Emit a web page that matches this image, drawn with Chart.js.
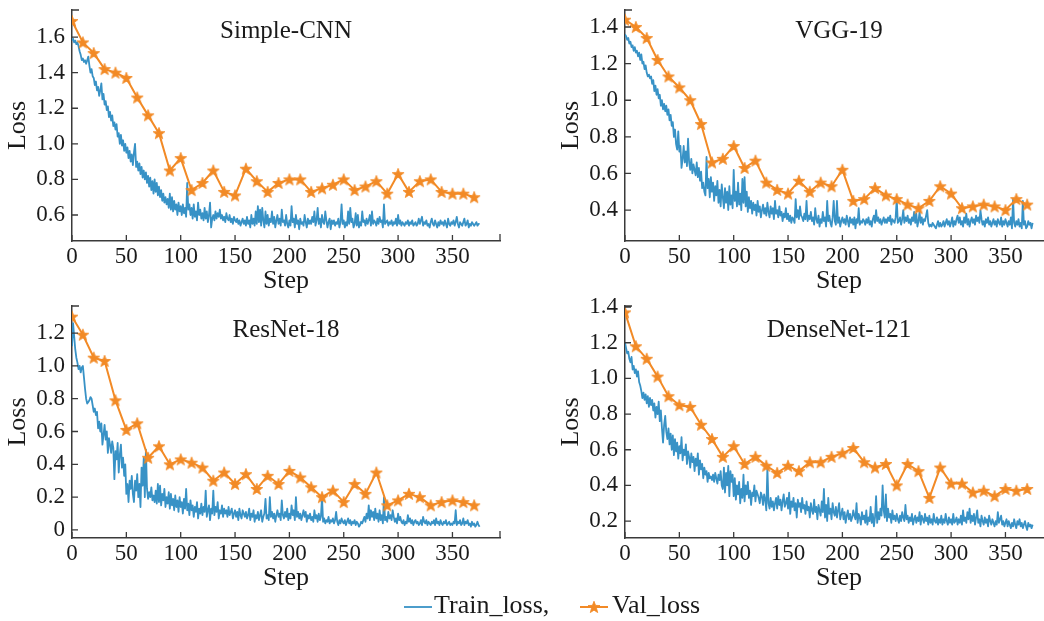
<!DOCTYPE html>
<html>
<head>
<meta charset="utf-8">
<script src="https://cdn.jsdelivr.net/npm/chart.js@4.4.0/dist/chart.umd.min.js"></script>
<style>
  html, body { margin: 0; padding: 0; background: #fff; }
  body { width: 1044px; height: 621px; position: relative; overflow: hidden; }
  canvas.panel { position: absolute; }
  #legend { position: absolute; left: 0; top: 0; width: 1044px; height: 621px; pointer-events: none; z-index: 5; }
  #legend span { position: absolute; font-family: 'Liberation Serif', 'Times New Roman', serif; font-size: 26px; line-height: 30px; color: #1a1a1a; white-space: pre; }
  #legend canvas { position: absolute; }
</style>
</head>
<body>
<canvas class="panel" id="cnn" width="522" height="297" style="left:0;top:0"></canvas>
<canvas class="panel" id="vgg" width="522" height="297" style="left:553px;top:0"></canvas>
<canvas class="panel" id="resnet" width="522" height="297" style="left:0;top:297px"></canvas>
<canvas class="panel" id="densenet" width="522" height="297" style="left:553px;top:297px"></canvas>
<div id="legend"></div>
<script>
// ---- data -------------------------------------------------------------
const stepTicks = [0, 50, 100, 150, 200, 250, 300, 350];
const valSteps = [0,10,20,30,40,50,60,70,80,90,100,110,120,130,140,150,160,170,180,190,
                  200,210,220,230,240,250,260,270,280,290,300,310,320,330,340,350,360,370];

// training loss, one value per step (0..375)
const simpleCnnTrain = [
  1.58,1.59,1.57,1.58,1.56,1.57,1.55,1.52,1.50,1.47,
  1.48,1.46,1.47,1.45,1.47,1.49,1.44,1.40,1.42,1.38,
  1.37,1.33,1.35,1.30,1.32,1.27,1.30,1.34,1.25,1.28,
  1.22,1.24,1.19,1.21,1.15,1.18,1.13,1.16,1.10,1.12,
  1.08,1.11,1.04,1.06,1.00,1.05,0.99,1.02,0.96,1.00,
  0.95,0.98,0.92,0.96,0.90,0.94,0.88,0.95,1.00,0.87,
  0.90,0.85,0.89,0.83,0.87,0.81,0.85,0.80,0.84,0.78,
  0.82,0.76,0.81,0.74,0.79,0.72,0.80,0.73,0.78,0.71,
  0.76,0.70,0.74,0.68,0.72,0.67,0.70,0.66,0.69,0.64,
  0.72,0.63,0.70,0.62,0.68,0.63,0.66,0.60,0.67,0.62,
  0.65,0.60,0.66,0.61,0.64,0.59,0.78,0.63,0.66,0.60,
  0.64,0.58,0.66,0.59,0.62,0.57,0.67,0.60,0.63,0.58,
  0.61,0.57,0.64,0.58,0.62,0.56,0.60,0.67,0.53,0.58,
  0.60,0.57,0.62,0.58,0.61,0.59,0.63,0.58,0.60,0.57,
  0.59,0.56,0.61,0.58,0.57,0.60,0.56,0.58,0.55,0.59,
  0.57,0.56,0.58,0.55,0.57,0.54,0.56,0.58,0.55,0.57,
  0.54,0.59,0.55,0.57,0.53,0.60,0.55,0.58,0.54,0.62,
  0.55,0.65,0.56,0.63,0.54,0.64,0.57,0.53,0.62,0.55,
  0.60,0.54,0.58,0.56,0.62,0.55,0.59,0.53,0.57,0.60,
  0.55,0.58,0.54,0.63,0.56,0.57,0.54,0.60,0.55,0.53,
  0.57,0.54,0.65,0.56,0.58,0.53,0.60,0.55,0.57,0.52,
  0.58,0.55,0.56,0.54,0.60,0.56,0.53,0.58,0.55,0.57,
  0.55,0.59,0.56,0.62,0.54,0.57,0.64,0.55,0.58,0.53,
  0.60,0.56,0.55,0.62,0.57,0.53,0.56,0.58,0.52,0.57,
  0.55,0.57,0.54,0.56,0.55,0.58,0.53,0.56,0.66,0.55,
  0.57,0.53,0.56,0.54,0.62,0.55,0.64,0.56,0.58,0.53,
  0.55,0.61,0.54,0.60,0.53,0.56,0.54,0.62,0.56,0.57,
  0.54,0.58,0.55,0.57,0.60,0.54,0.62,0.55,0.57,0.56,
  0.54,0.58,0.55,0.59,0.56,0.57,0.53,0.66,0.55,0.56,
  0.57,0.54,0.56,0.55,0.57,0.54,0.56,0.55,0.58,0.54,
  0.60,0.55,0.57,0.54,0.56,0.55,0.54,0.56,0.55,0.57,
  0.54,0.56,0.55,0.57,0.54,0.55,0.56,0.54,0.55,0.58,
  0.55,0.57,0.59,0.54,0.56,0.55,0.57,0.54,0.55,0.53,
  0.56,0.58,0.55,0.54,0.57,0.55,0.53,0.56,0.54,0.57,
  0.55,0.56,0.54,0.57,0.55,0.53,0.58,0.55,0.54,0.56,
  0.55,0.57,0.54,0.56,0.59,0.55,0.53,0.56,0.55,0.54,
  0.56,0.58,0.54,0.55,0.57,0.53,0.55,0.54,0.56,0.55,
  0.54,0.55,0.56,0.54,0.55,0.55
];
const simpleCnnVal = [1.69,1.57,1.51,1.42,1.40,1.37,1.26,1.16,1.06,0.85,0.92,0.74,0.78,0.85,0.73,0.71,0.86,0.79,0.73,
                      0.78,0.80,0.80,0.73,0.75,0.77,0.80,0.74,0.76,0.79,0.72,0.83,0.73,0.79,0.80,0.73,0.72,0.72,0.70];

const vgg19Train = [
  1.36,1.35,1.33,1.34,1.31,1.32,1.29,1.30,1.27,1.29,
  1.26,1.27,1.24,1.26,1.22,1.25,1.20,1.21,1.17,1.19,
  1.15,1.13,1.14,1.12,1.13,1.09,1.11,1.05,1.08,1.03,
  1.06,1.01,1.03,0.97,1.00,0.95,0.98,0.94,0.97,0.92,
  0.95,0.89,0.92,0.86,0.88,0.80,0.84,0.76,0.73,0.83,
  0.72,0.75,0.63,0.68,0.75,0.66,0.72,0.64,0.79,0.66,
  0.62,0.68,0.60,0.65,0.62,0.59,0.66,0.58,0.63,0.56,
  0.61,0.52,0.55,0.50,0.48,0.69,0.52,0.57,0.47,0.58,
  0.50,0.55,0.45,0.53,0.48,0.56,0.44,0.51,0.42,0.54,
  0.47,0.41,0.52,0.44,0.50,0.40,0.53,0.43,0.48,0.41,
  0.62,0.45,0.50,0.42,0.55,0.43,0.49,0.40,0.57,0.44,
  0.58,0.42,0.50,0.39,0.47,0.41,0.45,0.38,0.44,0.40,
  0.43,0.37,0.45,0.39,0.42,0.36,0.40,0.43,0.38,0.41,
  0.37,0.44,0.39,0.36,0.42,0.38,0.41,0.35,0.45,0.38,
  0.40,0.36,0.42,0.37,0.39,0.34,0.38,0.36,0.41,0.35,
  0.38,0.34,0.37,0.33,0.36,0.35,0.33,0.46,0.36,0.40,
  0.35,0.42,0.37,0.36,0.34,0.38,0.35,0.45,0.34,0.37,
  0.35,0.39,0.34,0.36,0.32,0.41,0.35,0.33,0.37,0.31,
  0.35,0.33,0.39,0.34,0.36,0.31,0.45,0.34,0.37,0.33,
  0.31,0.36,0.45,0.34,0.32,0.45,0.33,0.36,0.31,0.34,
  0.36,0.33,0.35,0.32,0.37,0.34,0.31,0.36,0.33,0.35,
  0.32,0.36,0.30,0.35,0.33,0.41,0.32,0.34,0.33,0.35,
  0.34,0.32,0.35,0.33,0.36,0.32,0.34,0.31,0.35,0.37,
  0.33,0.40,0.34,0.36,0.33,0.35,0.32,0.34,0.36,0.33,
  0.35,0.33,0.36,0.34,0.37,0.32,0.35,0.34,0.33,0.36,
  0.46,0.33,0.34,0.36,0.32,0.35,0.40,0.33,0.36,0.34,
  0.37,0.33,0.35,0.32,0.36,0.34,0.39,0.33,0.38,0.31,
  0.34,0.39,0.33,0.36,0.32,0.35,0.34,0.37,0.40,0.33,
  0.31,0.32,0.31,0.33,0.32,0.31,0.30,0.32,0.34,0.31,
  0.33,0.31,0.32,0.34,0.31,0.33,0.35,0.32,0.34,0.31,
  0.33,0.36,0.31,0.34,0.32,0.35,0.37,0.33,0.36,0.32,
  0.34,0.31,0.36,0.33,0.38,0.32,0.35,0.31,0.34,0.36,
  0.33,0.35,0.32,0.37,0.34,0.36,0.33,0.40,0.35,0.32,
  0.34,0.31,0.35,0.33,0.36,0.32,0.34,0.31,0.33,0.35,
  0.32,0.34,0.31,0.35,0.33,0.32,0.36,0.31,0.34,0.32,
  0.35,0.33,0.31,0.34,0.32,0.36,0.30,0.46,0.33,0.31,
  0.34,0.32,0.35,0.31,0.33,0.30,0.45,0.32,0.34,0.30,
  0.31,0.34,0.32,0.33,0.30,0.33
];
const vgg19Val = [1.44,1.40,1.34,1.22,1.13,1.07,1.00,0.87,0.66,0.68,0.75,0.63,0.67,0.55,0.51,0.49,0.56,0.50,0.55,
                  0.53,0.62,0.45,0.46,0.52,0.48,0.46,0.43,0.41,0.45,0.53,0.49,0.41,0.42,0.43,0.42,0.40,0.46,0.43];

const resnet18Train = [
  1.12,1.26,1.18,1.10,1.05,1.02,0.98,1.00,0.96,0.99,
  1.00,0.93,0.86,0.80,0.77,0.78,0.79,0.81,0.80,0.76,
  0.72,0.74,0.70,0.72,0.62,0.66,0.60,0.65,0.52,0.58,
  0.64,0.55,0.60,0.47,0.56,0.52,0.47,0.54,0.50,0.31,
  0.48,0.43,0.53,0.35,0.46,0.52,0.38,0.44,0.33,0.40,
  0.22,0.28,0.17,0.30,0.25,0.33,0.22,0.17,0.30,0.24,
  0.34,0.20,0.28,0.14,0.38,0.27,0.44,0.20,0.49,0.25,
  0.19,0.23,0.20,0.26,0.18,0.21,0.17,0.24,0.16,0.28,
  0.17,0.27,0.15,0.22,0.18,0.25,0.14,0.20,0.16,0.23,
  0.13,0.22,0.15,0.19,0.12,0.21,0.14,0.18,0.11,0.20,
  0.14,0.17,0.10,0.19,0.13,0.25,0.12,0.16,0.09,0.18,
  0.12,0.15,0.08,0.14,0.11,0.17,0.07,0.13,0.10,0.16,
  0.09,0.14,0.11,0.24,0.08,0.12,0.15,0.06,0.13,0.10,
  0.24,0.09,0.14,0.11,0.17,0.07,0.12,0.10,0.15,0.08,
  0.13,0.10,0.12,0.08,0.14,0.09,0.11,0.13,0.07,0.10,
  0.12,0.08,0.11,0.06,0.13,0.09,0.07,0.12,0.10,0.08,
  0.11,0.07,0.09,0.13,0.06,0.10,0.08,0.12,0.05,0.09,
  0.07,0.11,0.06,0.09,0.12,0.05,0.08,0.10,0.19,0.07,
  0.09,0.06,0.20,0.08,0.11,0.07,0.10,0.05,0.09,0.12,
  0.08,0.10,0.06,0.18,0.09,0.07,0.11,0.08,0.13,0.06,
  0.10,0.07,0.15,0.09,0.12,0.06,0.20,0.08,0.11,0.07,
  0.10,0.06,0.09,0.12,0.08,0.11,0.05,0.09,0.07,0.10,
  0.06,0.08,0.05,0.12,0.07,0.09,0.05,0.10,0.06,0.08,
  0.20,0.05,0.07,0.04,0.06,0.05,0.08,0.04,0.06,0.05,
  0.07,0.04,0.06,0.11,0.05,0.03,0.06,0.04,0.07,0.05,
  0.04,0.06,0.03,0.05,0.07,0.04,0.06,0.03,0.05,0.04,
  0.06,0.03,0.05,0.04,0.02,0.03,0.05,0.04,0.06,0.08,
  0.05,0.10,0.07,0.15,0.06,0.12,0.08,0.11,0.06,0.13,
  0.07,0.10,0.05,0.12,0.06,0.09,0.04,0.20,0.06,0.08,
  0.05,0.11,0.07,0.09,0.06,0.12,0.08,0.05,0.07,0.04,
  0.10,0.06,0.08,0.05,0.04,0.06,0.03,0.05,0.04,0.09,
  0.05,0.07,0.04,0.06,0.03,0.05,0.06,0.04,0.05,0.03,
  0.04,0.06,0.03,0.08,0.05,0.04,0.06,0.03,0.05,0.04,
  0.03,0.05,0.04,0.06,0.03,0.07,0.04,0.05,0.03,0.06,
  0.04,0.03,0.05,0.04,0.06,0.03,0.04,0.05,0.03,0.04,
  0.03,0.05,0.04,0.12,0.03,0.05,0.04,0.06,0.03,0.04,
  0.07,0.03,0.05,0.04,0.06,0.03,0.04,0.02,0.05,0.03,
  0.04,0.02,0.03,0.05,0.03,0.02
];
const resnet18Val = [1.30,1.19,1.05,1.03,0.79,0.61,0.65,0.44,0.51,0.40,0.43,0.41,0.38,0.30,0.35,0.28,0.34,0.25,0.33,
                     0.28,0.36,0.32,0.26,0.20,0.24,0.17,0.28,0.22,0.35,0.15,0.18,0.22,0.20,0.15,0.17,0.18,0.17,0.15];

const densenet121Train = [
  1.20,1.17,1.14,1.15,1.11,1.09,1.12,1.05,1.07,1.03,
  1.05,1.01,1.04,0.98,0.96,0.93,0.89,0.92,0.88,0.91,
  0.86,0.90,0.84,0.89,0.85,0.88,0.82,0.86,0.78,0.84,
  0.80,0.87,0.76,0.82,0.72,0.64,0.74,0.79,0.70,0.66,
  0.72,0.63,0.69,0.60,0.68,0.57,0.66,0.59,0.64,0.55,
  0.62,0.58,0.67,0.54,0.60,0.57,0.63,0.52,0.59,0.56,
  0.50,0.58,0.53,0.56,0.48,0.55,0.51,0.58,0.46,0.54,
  0.49,0.52,0.44,0.50,0.46,0.48,0.42,0.47,0.44,0.45,
  0.43,0.46,0.42,0.47,0.44,0.41,0.46,0.43,0.48,0.40,
  0.38,0.50,0.36,0.47,0.40,0.51,0.34,0.48,0.42,0.46,
  0.34,0.44,0.32,0.40,0.35,0.42,0.30,0.38,0.33,0.46,
  0.31,0.40,0.35,0.42,0.33,0.37,0.29,0.36,0.34,0.40,
  0.31,0.37,0.35,0.33,0.30,0.36,0.34,0.29,0.35,0.32,
  0.26,0.50,0.30,0.27,0.33,0.28,0.31,0.26,0.30,0.33,
  0.27,0.34,0.29,0.32,0.26,0.31,0.35,0.28,0.30,0.33,
  0.27,0.36,0.24,0.31,0.28,0.33,0.26,0.30,0.22,0.32,
  0.28,0.30,0.25,0.33,0.27,0.29,0.24,0.31,0.26,0.28,
  0.22,0.30,0.26,0.24,0.32,0.25,0.28,0.21,0.29,0.26,
  0.23,0.31,0.25,0.38,0.22,0.29,0.20,0.33,0.24,0.27,
  0.21,0.30,0.25,0.23,0.28,0.22,0.26,0.30,0.21,0.24,
  0.27,0.21,0.25,0.19,0.23,0.26,0.21,0.24,0.20,0.22,
  0.26,0.23,0.21,0.30,0.19,0.24,0.22,0.18,0.25,0.21,
  0.23,0.19,0.26,0.18,0.22,0.20,0.28,0.19,0.24,0.17,
  0.22,0.34,0.19,0.25,0.21,0.27,0.23,0.40,0.26,0.22,
  0.35,0.20,0.27,0.22,0.24,0.19,0.26,0.21,0.23,0.20,
  0.24,0.21,0.19,0.23,0.20,0.25,0.22,0.20,0.29,0.21,
  0.23,0.19,0.22,0.20,0.24,0.18,0.21,0.23,0.19,0.22,
  0.20,0.25,0.18,0.23,0.21,0.19,0.24,0.20,0.22,0.18,
  0.23,0.19,0.21,0.18,0.24,0.20,0.19,0.22,0.18,0.21,
  0.19,0.23,0.18,0.21,0.19,0.24,0.20,0.18,0.22,0.19,
  0.21,0.18,0.24,0.19,0.20,0.22,0.18,0.21,0.19,0.23,
  0.18,0.26,0.20,0.22,0.19,0.25,0.21,0.27,0.19,0.23,
  0.20,0.24,0.18,0.22,0.26,0.19,0.21,0.17,0.23,0.20,
  0.18,0.22,0.19,0.21,0.17,0.23,0.20,0.18,0.21,0.19,
  0.17,0.20,0.18,0.25,0.19,0.21,0.23,0.18,0.20,0.17,
  0.19,0.21,0.17,0.20,0.18,0.16,0.19,0.17,0.21,0.18,
  0.16,0.20,0.18,0.21,0.17,0.19,0.16,0.18,0.20,0.17,
  0.15,0.19,0.17,0.18,0.16,0.18
];
const densenet121Val = [1.37,1.18,1.11,1.01,0.90,0.85,0.84,0.74,0.66,0.56,0.62,0.52,0.56,0.51,0.47,0.51,0.48,0.53,0.53,
                        0.56,0.58,0.61,0.53,0.50,0.52,0.40,0.52,0.48,0.33,0.50,0.41,0.41,0.36,0.37,0.34,0.38,0.37,0.38];

// y-axis tick labels for each panel
const simpleCnnTicks   = [0.6, 0.8, 1.0, 1.2, 1.4, 1.6];
const vgg19Ticks       = [0.4, 0.6, 0.8, 1.0, 1.2, 1.4];
const resnet18Ticks    = [0, 0.2, 0.4, 0.6, 0.8, 1.0, 1.2];
const densenet121Ticks = [0.2, 0.4, 0.6, 0.8, 1.0, 1.2, 1.4];

// ---- styling ----------------------------------------------------------
const BLUE = '#3892C6';
const ORANGE = '#F28A26';
const AXIS = '#3a3a3a';
const TEXT = '#1a1a1a';
const SERIF = "'Liberation Serif', 'Times New Roman', serif";
const TICK_LEN = 6;

Chart.defaults.font.family = SERIF;
Chart.defaults.color = TEXT;

function makeStar(r, color) {
  const size = Math.ceil(r * 2 + 3);
  const c = document.createElement('canvas');
  c.width = size; c.height = size;
  const g = c.getContext('2d');
  g.translate(size / 2, size / 2 + r * 0.08);
  g.beginPath();
  for (let i = 0; i < 10; i++) {
    const a = -Math.PI / 2 + i * Math.PI / 5;
    const rr = i % 2 ? r * 0.42 : r;
    g.lineTo(rr * Math.cos(a), rr * Math.sin(a));
  }
  g.closePath();
  g.fillStyle = color;
  g.fill();
  g.lineJoin = 'round';
  g.lineWidth = 0.8;
  g.strokeStyle = color;
  g.stroke();
  return c;
}
const STAR = makeStar(6.3, ORANGE);

// inward tick marks plus the small caps at the open ends of both spines
const inwardTicks = {
  id: 'inwardTicks',
  afterDatasetsDraw(chart) {
    const {ctx, chartArea: a, scales: {x, y}} = chart;
    ctx.save();
    ctx.strokeStyle = AXIS;
    ctx.lineWidth = 1.3;
    ctx.beginPath();
    x.ticks.forEach(t => {
      const px = x.getPixelForValue(t.value);
      ctx.moveTo(px, a.bottom);
      ctx.lineTo(px, a.bottom - TICK_LEN);
    });
    y.ticks.forEach(t => {
      const py = y.getPixelForValue(t.value);
      ctx.moveTo(a.left, py);
      ctx.lineTo(a.left + TICK_LEN, py);
    });
    ctx.moveTo(a.left, a.top);
    ctx.lineTo(a.left + TICK_LEN + 1, a.top);
    ctx.moveTo(a.right, a.bottom);
    ctx.lineTo(a.right, a.bottom - TICK_LEN - 1);
    ctx.stroke();
    ctx.restore();
  }
};

function buildPanel(id, title, train, val, yTicks, yMin, yMax, titleTop, titleBox) {
  const trainPts = train.map((v, i) => ({x: i, y: v}));
  const valPts = val.map((v, i) => ({x: valSteps[i], y: v}));
  return new Chart(document.getElementById(id), {
    type: 'line',
    data: {
      datasets: [
        {label: 'Train_loss', data: trainPts, borderColor: BLUE, borderWidth: 1.8,
         pointRadius: 0, tension: 0, borderJoinStyle: 'round', fill: false, order: 2},
        {label: 'Val_loss', data: valPts, borderColor: ORANGE, borderWidth: 2,
         pointStyle: STAR, pointRadius: 6, pointBackgroundColor: ORANGE, pointBorderColor: ORANGE,
         tension: 0, borderJoinStyle: 'round', fill: false, order: 1}
      ]
    },
    options: {
      responsive: false,
      animation: false,
      events: [],
      layout: {padding: {left: 0, right: 22, top: 0, bottom: 0}},
      plugins: {
        legend: {display: false},
        tooltip: {enabled: false},
        title: {
          display: true, text: title, fullSize: false, color: TEXT,
          font: {size: 25, weight: 'normal', family: SERIF, lineHeight: 1.2},
          padding: {top: titleTop, bottom: titleBox - 30 - titleTop}
        }
      },
      scales: {
        x: {
          type: 'linear', min: 0, max: 393.75,
          afterBuildTicks: s => { s.ticks = stepTicks.map(v => ({value: v})); },
          afterFit: s => { s.height = 56; s.paddingLeft = 0; s.paddingRight = 0; },
          ticks: {autoSkip: false, maxRotation: 0, padding: 2, font: {size: 23}, color: TEXT,
                  callback: v => String(v)},
          grid: {display: false, drawTicks: false},
          border: {display: true, color: AXIS, width: 1.5},
          title: {display: true, text: 'Step', color: TEXT, font: {size: 26}, padding: 0}
        },
        y: {
          type: 'linear', min: yMin, max: yMax,
          afterBuildTicks: s => { s.ticks = yTicks.map(v => ({value: v})); },
          afterFit: s => { s.width = 72; s.paddingTop = 0; s.paddingBottom = 0; },
          ticks: {autoSkip: false, padding: 7, font: {size: 23}, color: TEXT,
                  callback: v => (v === 0 ? '0' : Number(v).toFixed(1))},
          grid: {display: false, drawTicks: false},
          border: {display: true, color: AXIS, width: 1.5},
          title: {display: true, text: 'Loss', color: TEXT, font: {size: 26}, padding: {top: 3, bottom: 0}}
        }
      }
    },
    plugins: [inwardTicks]
  });
}

buildPanel('cnn', 'Simple-CNN', simpleCnnTrain, simpleCnnVal, simpleCnnTicks, 0.454, 1.752, 16, 10);
buildPanel('vgg', 'VGG-19', vgg19Train, vgg19Val, vgg19Ticks, 0.231, 1.493, 16, 10);
buildPanel('resnet', 'ResNet-18', resnet18Train, resnet18Val, resnet18Ticks, -0.049, 1.365, 18, 9);
buildPanel('densenet', 'DenseNet-121', densenet121Train, densenet121Val, densenet121Ticks, 0.105, 1.406, 18, 9);

// ---- shared legend ----------------------------------------------------
(function buildLegend() {
  const host = document.getElementById('legend');
  function marker(left, withStar, color) {
    const c = document.createElement('canvas');
    c.width = 28; c.height = 16;
    c.style.left = left + 'px';
    c.style.top = '599px';
    const g = c.getContext('2d');
    g.strokeStyle = color;
    g.lineWidth = withStar ? 2 : 1.8;
    g.beginPath(); g.moveTo(0, 8); g.lineTo(28, 8); g.stroke();
    if (withStar) g.drawImage(STAR, 14 - STAR.width / 2, 8 - STAR.height / 2);
    host.appendChild(c);
  }
  function label(left, text) {
    const s = document.createElement('span');
    s.textContent = text;
    s.style.left = left + 'px';
    s.style.top = '590px';
    host.appendChild(s);
  }
  marker(404, false, BLUE);
  label(434, 'Train_loss,');
  marker(580, true, ORANGE);
  label(612, 'Val_loss');
})();
</script>
</body>
</html>
